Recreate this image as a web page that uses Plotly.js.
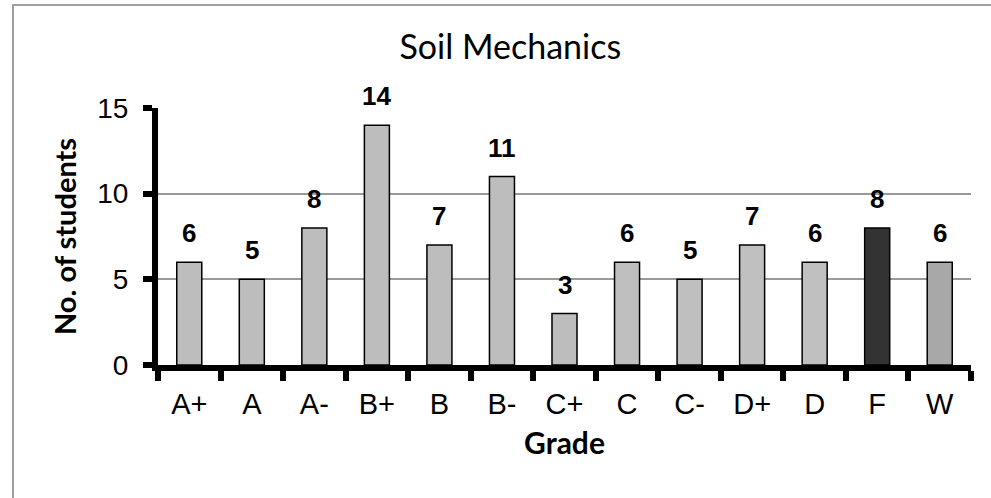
<!DOCTYPE html>
<html>
<head>
<meta charset="utf-8">
<script src="https://cdn.plot.ly/plotly-3.0.1.min.js"></script>
<style>
  html, body { margin: 0; padding: 0; background: #fff; }
  #wrap { position: relative; width: 991px; height: 498px; overflow: hidden; }
  #chart { width: 991px; height: 498px; }
  #frame { position: absolute; left: 12px; top: 4px; width: 1100px; height: 600px;
           border: 2px solid #a0a0a0; pointer-events: none; box-sizing: border-box; }
</style>
</head>
<body>
<div id="wrap">
  <div id="chart"></div>
  <div id="frame"></div>
</div>
<script>
const grades = ["A+", "A", "A-", "B+", "B", "B-", "C+", "C", "C-", "D+", "D", "F", "W"];
const students = [6, 5, 8, 14, 7, 11, 3, 6, 5, 7, 6, 8, 6];
const barColors = ["#bdbdbd", "#bdbdbd", "#bdbdbd", "#bdbdbd", "#bdbdbd", "#bdbdbd", "#bdbdbd",
                   "#bfbfbf", "#bfbfbf", "#c0c0c0", "#c0c0c0", "#333333", "#a8a8a8"];
const yTicks = [0, 5, 10, 15];

const trace = {
  type: "bar",
  x: grades,
  y: students,
  marker: { color: barColors, line: { color: "#000", width: 1.5 } },
  hoverinfo: "skip"
};

const annotations = grades.map((g, i) => ({
  x: g, y: students[i], xref: "x", yref: "y",
  text: String(students[i]), showarrow: false,
  yanchor: "bottom", yshift: 12,
  font: { family: "Liberation Sans, Arial, sans-serif", size: 26, color: "#000", weight: "bold" }
}));

const layout = {
  width: 991, height: 498,
  margin: { l: 158, r: 20, t: 108, b: 133 },
  paper_bgcolor: "#fff", plot_bgcolor: "#fff",
  showlegend: false,
  bargap: 0.6,
  title: {
    text: "Soil Mechanics",
    xref: "container", x: 0.515, xanchor: "center",
    yref: "container", y: 0.905, yanchor: "middle",
    font: { family: "Lato, Carlito, Calibri, sans-serif", size: 34, color: "#000" }
  },
  xaxis: {
    type: "category",
    showline: true, linecolor: "#000", linewidth: 6,
    ticks: "outside", tickson: "boundaries", ticklen: 10, tickwidth: 6, tickcolor: "#000",
    showgrid: false, zeroline: false,
    tickfont: { family: "Liberation Sans, Arial, sans-serif", size: 29, color: "#000" },
    ticklabelstandoff: 8,
    title: { text: "Grade", standoff: 16,
             font: { family: "Lato, Carlito, Calibri, sans-serif", size: 30, color: "#000", weight: "bold" } }
  },
  yaxis: {
    range: [0, 15],
    tickvals: yTicks,
    showline: true, linecolor: "#000", linewidth: 6,
    ticks: "outside", ticklen: 9, tickwidth: 6, tickcolor: "#000",
    showgrid: true, gridcolor: "#9a9a9a", gridwidth: 2,
    zeroline: false,
    tickfont: { family: "Liberation Sans, Arial, sans-serif", size: 28, color: "#000" },
    ticklabelstandoff: 9,
    title: { text: "No. of students", standoff: 14,
             font: { family: "Lato, Carlito, Calibri, sans-serif", size: 29, color: "#000", weight: "bold" } }
  },
  annotations: annotations
};

Plotly.newPlot("chart", [trace], layout, { displayModeBar: false, staticPlot: true });
</script>
</body>
</html>
